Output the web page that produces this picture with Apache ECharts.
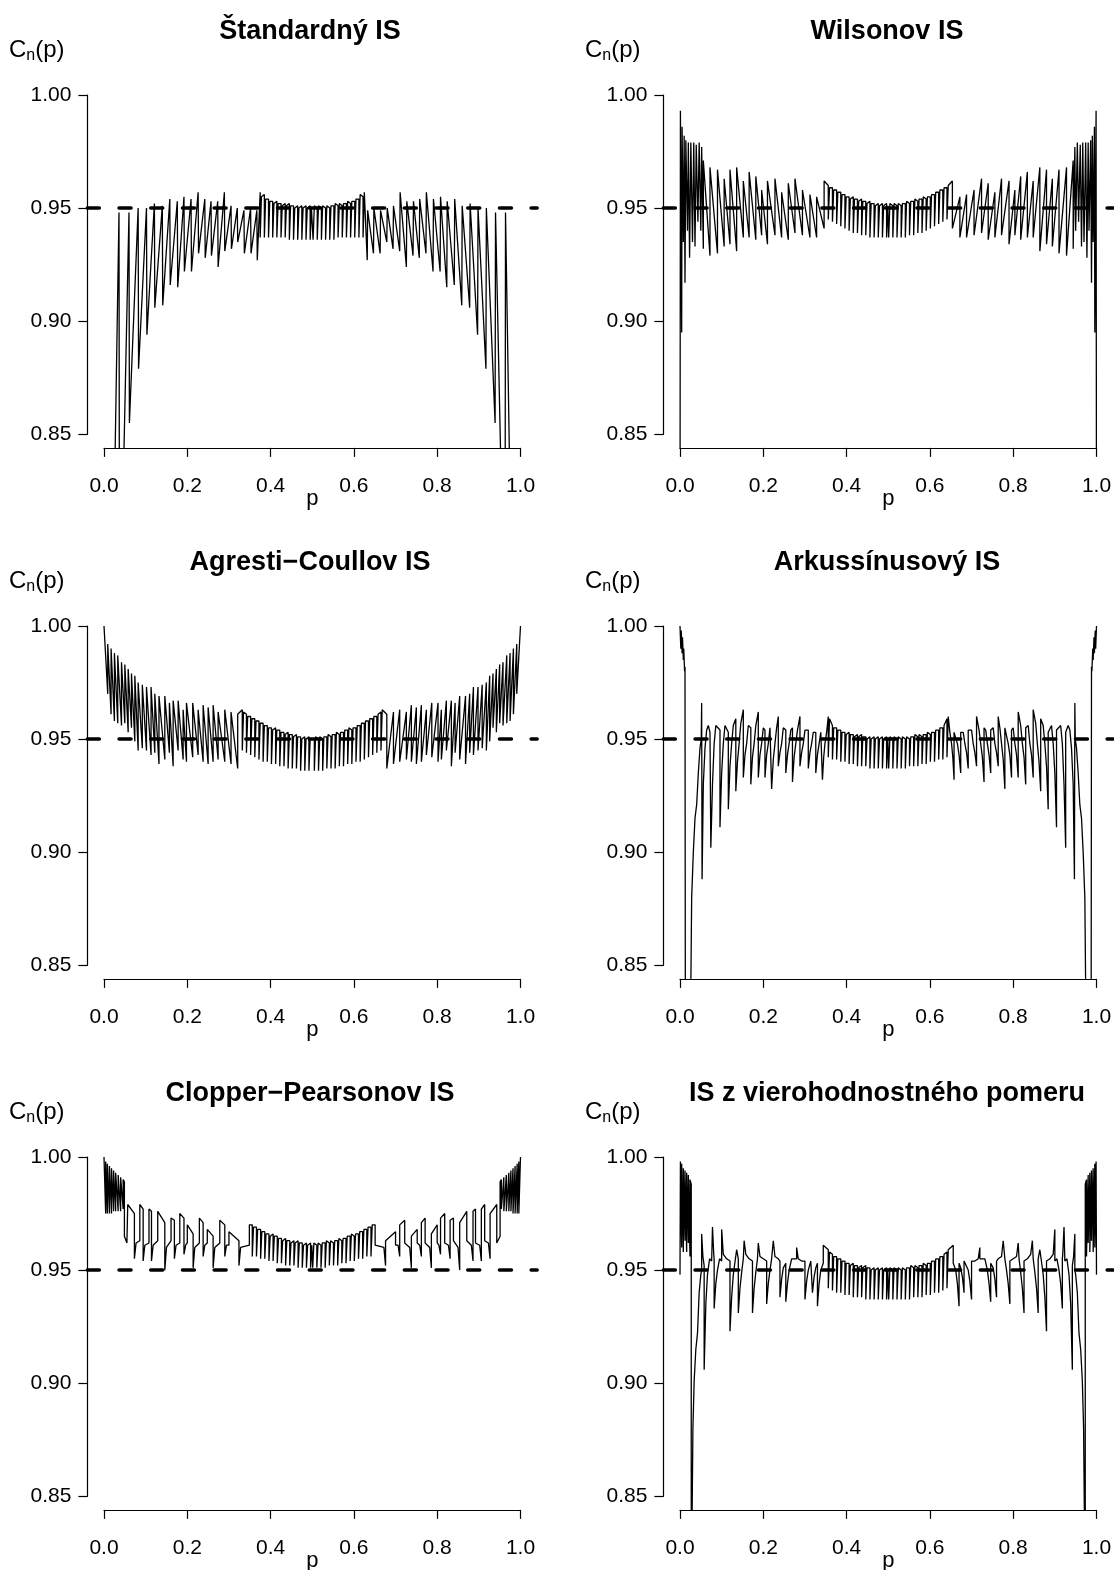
<!DOCTYPE html>
<html>
<head>
<meta charset="utf-8">
<title>Pravdepodobnosť pokrytia intervalov spoľahlivosti</title>
<script src="https://cdn.jsdelivr.net/npm/echarts@6/dist/echarts.min.js"></script>
<style>
  html, body { margin: 0; padding: 0; background: #fff; }
  #chart { width: 1114px; height: 1570px; }
</style>
</head>
<body>
<div id="chart"></div>
<script>
// coverage C_n(p), [p, C]
const standardIS = [
  [0,0.8],[0.023,0.8],[0.036,0.948],[0.037,0.8],[0.043,0.8],
  [0.06,0.948],[0.061,0.855],[0.082,0.95],[0.083,0.879],[0.102,0.95],[0.103,0.894],
  [0.121,0.952],[0.122,0.906],[0.14,0.951],[0.141,0.907],[0.158,0.954],[0.159,0.916],
  [0.176,0.953],[0.177,0.915],[0.192,0.955],[0.193,0.922],[0.209,0.954],[0.21,0.922],
  [0.226,0.957],[0.227,0.93],[0.242,0.954],[0.243,0.928],[0.257,0.953],[0.258,0.929],
  [0.273,0.953],[0.274,0.924],[0.289,0.957],[0.29,0.931],[0.305,0.951],[0.306,0.932],
  [0.32,0.95],[0.321,0.935],[0.336,0.949],[0.337,0.93],[0.352,0.95],[0.353,0.93],
  [0.367,0.949],[0.368,0.927],
  [0.375,0.957],[0.375,0.937],[0.378,0.937],[0.378,0.955],
  [0.385,0.956],[0.385,0.937],[0.388,0.937],[0.388,0.954],
  [0.395,0.954],[0.395,0.937],[0.398,0.937],[0.398,0.953],
  [0.405,0.953],[0.405,0.937],[0.408,0.937],[0.408,0.952],
  [0.415,0.953],[0.415,0.937],[0.418,0.937],[0.418,0.952],
  [0.425,0.952],[0.425,0.937],[0.428,0.937],[0.428,0.951],
  [0.435,0.952],[0.435,0.937],[0.438,0.937],[0.438,0.951],
  [0.445,0.952],[0.445,0.936],[0.448,0.936],[0.448,0.951],
  [0.455,0.951],[0.455,0.936],[0.458,0.936],[0.458,0.95],
  [0.465,0.951],[0.465,0.936],[0.468,0.936],[0.468,0.95],
  [0.475,0.951],[0.475,0.936],[0.478,0.936],[0.478,0.95],
  [0.485,0.951],[0.485,0.936],[0.488,0.936],[0.488,0.95],
  [0.495,0.951],[0.495,0.936],[0.498,0.936],[0.498,0.95],
  [0.502,0.95],[0.502,0.936],[0.505,0.936],[0.505,0.951],
  [0.512,0.95],[0.512,0.936],[0.515,0.936],[0.515,0.951],
  [0.522,0.95],[0.522,0.936],[0.525,0.936],[0.525,0.951],
  [0.532,0.95],[0.532,0.936],[0.535,0.936],[0.535,0.951],
  [0.542,0.95],[0.542,0.936],[0.545,0.936],[0.545,0.951],
  [0.552,0.951],[0.552,0.936],[0.555,0.936],[0.555,0.952],
  [0.562,0.951],[0.562,0.937],[0.565,0.937],[0.565,0.952],
  [0.572,0.951],[0.572,0.937],[0.575,0.937],[0.575,0.952],
  [0.582,0.952],[0.582,0.937],[0.585,0.937],[0.585,0.953],
  [0.592,0.952],[0.592,0.937],[0.595,0.937],[0.595,0.953],
  [0.602,0.953],[0.602,0.937],[0.605,0.937],[0.605,0.954],
  [0.612,0.954],[0.612,0.937],[0.615,0.937],[0.615,0.956],
  [0.622,0.955],[0.622,0.937],[0.625,0.937],[0.625,0.957],
  [0.632,0.927],[0.633,0.949],[0.647,0.93],[0.648,0.95],[0.663,0.93],[0.664,0.949],
  [0.679,0.935],[0.68,0.95],[0.694,0.932],[0.695,0.951],[0.71,0.931],[0.711,0.957],
  [0.726,0.924],[0.727,0.953],[0.742,0.929],[0.743,0.953],[0.757,0.928],[0.758,0.954],
  [0.773,0.93],[0.774,0.957],[0.79,0.922],[0.791,0.954],[0.807,0.922],[0.808,0.955],
  [0.823,0.915],[0.824,0.953],[0.841,0.916],[0.842,0.954],[0.859,0.907],[0.86,0.951],
  [0.878,0.906],[0.879,0.952],[0.897,0.894],[0.898,0.95],[0.917,0.879],[0.918,0.95],
  [0.939,0.855],[0.94,0.948],[0.957,0.8],[0.963,0.8],[0.964,0.948],[0.977,0.8],[1,0.8]
];

const wilsonIS = [
  [0,0.8],[0.001,0.993],[0.004,0.895],[0.005,0.986],[0.008,0.935],[0.01,0.982],[0.012,0.917],[0.014,0.98],
  [0.018,0.94],[0.02,0.979],[0.023,0.928],[0.026,0.979],[0.03,0.935],[0.033,0.979],[0.036,0.933],[0.039,0.978],
  [0.043,0.944],[0.046,0.979],[0.05,0.94],[0.052,0.977],
  [0.056,0.932],[0.056,0.971],[0.072,0.929],[0.072,0.968],[0.09,0.93],[0.09,0.967],[0.106,0.933],[0.106,0.963],
  [0.12,0.934],[0.12,0.967],[0.136,0.931],[0.136,0.968],[0.152,0.937],[0.152,0.962],[0.166,0.937],[0.166,0.966],
  [0.182,0.936],[0.182,0.964],[0.196,0.938],[0.196,0.958],[0.21,0.934],[0.21,0.962],[0.228,0.938],[0.228,0.963],
  [0.244,0.937],[0.244,0.957],[0.26,0.936],[0.26,0.961],[0.276,0.939],[0.276,0.963],[0.294,0.938],[0.294,0.958],
  [0.312,0.937],[0.312,0.956],[0.328,0.937],[0.328,0.955],[0.346,0.941],[0.346,0.962],
  [0.356,0.96],[0.356,0.945],[0.359,0.945],[0.359,0.959],
  [0.366,0.959],[0.366,0.944],[0.369,0.944],[0.369,0.958],
  [0.376,0.958],[0.376,0.943],[0.379,0.943],[0.379,0.957],
  [0.386,0.957],[0.386,0.942],[0.389,0.942],[0.389,0.956],
  [0.396,0.956],[0.396,0.941],[0.399,0.941],[0.399,0.955],
  [0.406,0.955],[0.406,0.94],[0.409,0.94],[0.409,0.954],
  [0.416,0.955],[0.416,0.939],[0.419,0.939],[0.419,0.954],
  [0.426,0.954],[0.426,0.939],[0.429,0.939],[0.429,0.953],
  [0.436,0.954],[0.436,0.938],[0.439,0.938],[0.439,0.953],
  [0.446,0.953],[0.446,0.938],[0.449,0.938],[0.449,0.952],
  [0.456,0.953],[0.456,0.937],[0.459,0.937],[0.459,0.952],
  [0.466,0.952],[0.466,0.937],[0.469,0.937],[0.469,0.951],
  [0.476,0.952],[0.476,0.937],[0.479,0.937],[0.479,0.951],
  [0.486,0.952],[0.486,0.937],[0.489,0.937],[0.489,0.951],
  [0.496,0.952],[0.496,0.937],[0.499,0.937],[0.499,0.951],
  [0.501,0.951],[0.501,0.937],[0.504,0.937],[0.504,0.952],
  [0.511,0.951],[0.511,0.937],[0.514,0.937],[0.514,0.952],
  [0.521,0.951],[0.521,0.937],[0.524,0.937],[0.524,0.952],
  [0.531,0.951],[0.531,0.937],[0.534,0.937],[0.534,0.952],
  [0.541,0.952],[0.541,0.937],[0.544,0.937],[0.544,0.953],
  [0.551,0.952],[0.551,0.938],[0.554,0.938],[0.554,0.953],
  [0.561,0.953],[0.561,0.938],[0.564,0.938],[0.564,0.954],
  [0.571,0.953],[0.571,0.939],[0.574,0.939],[0.574,0.954],
  [0.581,0.954],[0.581,0.939],[0.584,0.939],[0.584,0.955],
  [0.591,0.954],[0.591,0.94],[0.594,0.94],[0.594,0.955],
  [0.601,0.955],[0.601,0.941],[0.604,0.941],[0.604,0.956],
  [0.611,0.956],[0.611,0.942],[0.614,0.942],[0.614,0.957],
  [0.621,0.957],[0.621,0.943],[0.624,0.943],[0.624,0.958],
  [0.631,0.958],[0.631,0.944],[0.634,0.944],[0.634,0.959],
  [0.641,0.959],[0.641,0.945],[0.644,0.945],[0.644,0.96],
  [0.654,0.962],[0.654,0.941],[0.672,0.955],[0.672,0.937],[0.688,0.956],[0.688,0.937],[0.706,0.958],[0.706,0.938],
  [0.724,0.963],[0.724,0.939],[0.74,0.961],[0.74,0.936],[0.756,0.957],[0.756,0.937],[0.772,0.963],[0.772,0.938],
  [0.79,0.962],[0.79,0.934],[0.804,0.958],[0.804,0.938],[0.818,0.964],[0.818,0.936],[0.834,0.966],[0.834,0.937],
  [0.848,0.962],[0.848,0.937],[0.864,0.968],[0.864,0.931],[0.88,0.967],[0.88,0.934],[0.894,0.963],[0.894,0.933],
  [0.91,0.967],[0.91,0.93],[0.928,0.968],[0.928,0.929],[0.944,0.971],[0.944,0.932],
  [0.948,0.977],[0.95,0.94],[0.954,0.979],[0.957,0.944],[0.961,0.978],[0.964,0.933],[0.967,0.979],[0.97,0.935],
  [0.974,0.979],[0.977,0.928],[0.98,0.979],[0.982,0.94],[0.986,0.98],[0.988,0.917],[0.99,0.982],[0.992,0.935],
  [0.995,0.986],[0.996,0.895],[0.999,0.993],[1,0.8]
];

const agrestiIS = [
  [0,1],[0.009,0.97],[0.009,0.992],[0.017,0.961],[0.017,0.99],[0.025,0.958],[0.025,0.988],[0.033,0.957],[0.033,0.987],
  [0.042,0.956],[0.042,0.984],[0.05,0.957],[0.05,0.983],[0.058,0.953],[0.058,0.981],[0.066,0.955],[0.066,0.979],
  [0.074,0.949],[0.074,0.978],[0.082,0.945],[0.082,0.975],[0.092,0.946],[0.092,0.974],[0.102,0.945],[0.102,0.973],
  [0.113,0.943],[0.113,0.973],[0.122,0.944],[0.122,0.97],[0.132,0.939],[0.132,0.969],[0.146,0.941],[0.146,0.969],
  [0.157,0.944],[0.157,0.966],[0.166,0.938],[0.166,0.967],[0.178,0.945],[0.178,0.967],[0.19,0.941],[0.19,0.963],
  [0.198,0.94],[0.198,0.966],[0.213,0.942],[0.213,0.966],[0.226,0.943],[0.226,0.963],[0.238,0.94],[0.238,0.965],
  [0.25,0.939],[0.25,0.964],[0.262,0.94],[0.262,0.965],[0.274,0.941],[0.274,0.962],[0.29,0.94],[0.29,0.963],
  [0.305,0.939],[0.305,0.962],[0.321,0.937],[0.321,0.961],
  [0.332,0.963],[0.332,0.945],[0.335,0.945],[0.335,0.962],
  [0.342,0.961],[0.342,0.944],[0.345,0.944],[0.345,0.96],
  [0.352,0.96],[0.352,0.943],[0.355,0.943],[0.355,0.959],
  [0.362,0.959],[0.362,0.942],[0.365,0.942],[0.365,0.958],
  [0.372,0.958],[0.372,0.941],[0.375,0.941],[0.375,0.957],
  [0.382,0.957],[0.382,0.94],[0.385,0.94],[0.385,0.956],
  [0.392,0.956],[0.392,0.94],[0.395,0.94],[0.395,0.955],
  [0.402,0.955],[0.402,0.939],[0.405,0.939],[0.405,0.954],
  [0.412,0.955],[0.412,0.939],[0.415,0.939],[0.415,0.954],
  [0.422,0.954],[0.422,0.938],[0.425,0.938],[0.425,0.953],
  [0.432,0.953],[0.432,0.938],[0.435,0.938],[0.435,0.952],
  [0.442,0.953],[0.442,0.937],[0.445,0.937],[0.445,0.952],
  [0.452,0.952],[0.452,0.937],[0.455,0.937],[0.455,0.951],
  [0.462,0.952],[0.462,0.937],[0.465,0.937],[0.465,0.951],
  [0.472,0.951],[0.472,0.936],[0.475,0.936],[0.475,0.95],
  [0.482,0.951],[0.482,0.936],[0.485,0.936],[0.485,0.95],
  [0.492,0.951],[0.492,0.936],[0.495,0.936],[0.495,0.95],
  [0.505,0.95],[0.505,0.936],[0.508,0.936],[0.508,0.951],
  [0.515,0.95],[0.515,0.936],[0.518,0.936],[0.518,0.951],
  [0.525,0.95],[0.525,0.936],[0.528,0.936],[0.528,0.951],
  [0.535,0.951],[0.535,0.937],[0.538,0.937],[0.538,0.952],
  [0.545,0.951],[0.545,0.937],[0.548,0.937],[0.548,0.952],
  [0.555,0.952],[0.555,0.937],[0.558,0.937],[0.558,0.953],
  [0.565,0.952],[0.565,0.938],[0.568,0.938],[0.568,0.953],
  [0.575,0.953],[0.575,0.938],[0.578,0.938],[0.578,0.954],
  [0.585,0.954],[0.585,0.939],[0.588,0.939],[0.588,0.955],
  [0.595,0.954],[0.595,0.939],[0.598,0.939],[0.598,0.955],
  [0.605,0.955],[0.605,0.94],[0.608,0.94],[0.608,0.956],
  [0.615,0.956],[0.615,0.94],[0.618,0.94],[0.618,0.957],
  [0.625,0.957],[0.625,0.941],[0.628,0.941],[0.628,0.958],
  [0.635,0.958],[0.635,0.942],[0.638,0.942],[0.638,0.959],
  [0.645,0.959],[0.645,0.943],[0.648,0.943],[0.648,0.96],
  [0.655,0.96],[0.655,0.944],[0.658,0.944],[0.658,0.961],
  [0.665,0.962],[0.665,0.945],[0.668,0.945],[0.668,0.963],
  [0.679,0.961],[0.679,0.937],[0.695,0.962],[0.695,0.939],[0.71,0.963],[0.71,0.94],[0.726,0.962],[0.726,0.941],
  [0.738,0.965],[0.738,0.94],[0.75,0.964],[0.75,0.939],[0.762,0.965],[0.762,0.94],[0.774,0.963],[0.774,0.943],
  [0.787,0.966],[0.787,0.942],[0.802,0.966],[0.802,0.94],[0.81,0.963],[0.81,0.941],[0.822,0.967],[0.822,0.945],
  [0.834,0.967],[0.834,0.938],[0.843,0.966],[0.843,0.944],[0.854,0.969],[0.854,0.941],[0.868,0.969],[0.868,0.939],
  [0.878,0.97],[0.878,0.944],[0.887,0.973],[0.887,0.943],[0.898,0.973],[0.898,0.945],[0.908,0.974],[0.908,0.946],
  [0.918,0.975],[0.918,0.945],[0.926,0.978],[0.926,0.949],[0.934,0.979],[0.934,0.955],[0.942,0.981],[0.942,0.953],
  [0.95,0.983],[0.95,0.957],[0.958,0.984],[0.958,0.956],[0.967,0.987],[0.967,0.957],[0.975,0.988],[0.975,0.958],
  [0.983,0.99],[0.983,0.961],[0.991,0.992],[0.991,0.97],[1,1]
];

const arcsinIS = [
  [0,1],[0.002,0.99],[0.003,0.998],[0.005,0.988],[0.006,0.995],[0.008,0.985],[0.009,0.99],[0.011,0.98],[0.012,0.982],
  [0.013,0.8],[0.024,0.8],[0.028,0.88],[0.032,0.9],[0.036,0.915],[0.04,0.921],[0.044,0.935],[0.048,0.946],[0.051,0.95],
  [0.052,0.966],[0.053,0.888],[0.056,0.93],[0.06,0.946],[0.064,0.954],[0.068,0.956],[0.072,0.953],
  [0.074,0.953],[0.074,0.902],[0.078,0.93],[0.082,0.948],[0.086,0.956],
  [0.096,0.954],[0.096,0.911],[0.1,0.935],[0.104,0.948],[0.108,0.956],
  [0.116,0.953],[0.116,0.919],[0.12,0.938],[0.124,0.948],[0.128,0.956],
  [0.134,0.959],[0.134,0.927],[0.138,0.94],[0.142,0.948],[0.146,0.957],
  [0.152,0.963],[0.152,0.933],[0.156,0.943],[0.16,0.948],[0.164,0.956],
  [0.17,0.955],[0.17,0.93],[0.174,0.942],[0.178,0.948],[0.182,0.956],
  [0.188,0.962],[0.188,0.933],[0.192,0.943],[0.196,0.948],[0.2,0.955],
  [0.204,0.954],[0.204,0.933],[0.208,0.943],[0.212,0.948],[0.216,0.955],
  [0.22,0.955],[0.22,0.928],[0.224,0.941],[0.228,0.948],[0.232,0.955],
  [0.236,0.96],[0.236,0.938],[0.24,0.944],[0.244,0.948],[0.248,0.955],
  [0.254,0.954],[0.254,0.935],[0.258,0.943],[0.262,0.948],[0.266,0.954],
  [0.27,0.955],[0.27,0.931],[0.274,0.942],[0.278,0.948],[0.282,0.954],
  [0.288,0.96],[0.288,0.938],[0.292,0.944],[0.296,0.948],[0.3,0.954],
  [0.308,0.954],[0.308,0.937],[0.312,0.944],[0.316,0.948],[0.32,0.953],
  [0.326,0.953],[0.326,0.935],[0.33,0.943],[0.334,0.948],[0.338,0.953],
  [0.342,0.953],[0.342,0.932],[0.345,0.942],[0.348,0.948],[0.352,0.953],
  [0.356,0.96],[0.356,0.942],[0.359,0.942],[0.359,0.959],
  [0.366,0.956],[0.366,0.941],[0.369,0.941],[0.369,0.955],
  [0.376,0.955],[0.376,0.941],[0.379,0.941],[0.379,0.954],
  [0.386,0.954],[0.386,0.94],[0.389,0.94],[0.389,0.953],
  [0.396,0.953],[0.396,0.94],[0.399,0.94],[0.399,0.952],
  [0.406,0.953],[0.406,0.939],[0.409,0.939],[0.409,0.952],
  [0.416,0.952],[0.416,0.939],[0.419,0.939],[0.419,0.951],
  [0.426,0.952],[0.426,0.938],[0.429,0.938],[0.429,0.951],
  [0.436,0.952],[0.436,0.938],[0.439,0.938],[0.439,0.951],
  [0.446,0.951],[0.446,0.938],[0.449,0.938],[0.449,0.95],
  [0.456,0.951],[0.456,0.937],[0.459,0.937],[0.459,0.95],
  [0.466,0.951],[0.466,0.937],[0.469,0.937],[0.469,0.95],
  [0.476,0.951],[0.476,0.937],[0.479,0.937],[0.479,0.95],
  [0.486,0.951],[0.486,0.937],[0.489,0.937],[0.489,0.95],
  [0.496,0.951],[0.496,0.937],[0.499,0.937],[0.499,0.95],
  [0.501,0.95],[0.501,0.937],[0.504,0.937],[0.504,0.951],
  [0.511,0.95],[0.511,0.937],[0.514,0.937],[0.514,0.951],
  [0.521,0.95],[0.521,0.937],[0.524,0.937],[0.524,0.951],
  [0.531,0.95],[0.531,0.937],[0.534,0.937],[0.534,0.951],
  [0.541,0.95],[0.541,0.937],[0.544,0.937],[0.544,0.951],
  [0.551,0.95],[0.551,0.938],[0.554,0.938],[0.554,0.951],
  [0.561,0.951],[0.561,0.938],[0.564,0.938],[0.564,0.952],
  [0.571,0.951],[0.571,0.938],[0.574,0.938],[0.574,0.952],
  [0.581,0.951],[0.581,0.939],[0.584,0.939],[0.584,0.952],
  [0.591,0.952],[0.591,0.939],[0.594,0.939],[0.594,0.953],
  [0.601,0.952],[0.601,0.94],[0.604,0.94],[0.604,0.953],
  [0.611,0.953],[0.611,0.94],[0.614,0.94],[0.614,0.954],
  [0.621,0.954],[0.621,0.941],[0.624,0.941],[0.624,0.955],
  [0.631,0.955],[0.631,0.941],[0.634,0.941],[0.634,0.956],
  [0.641,0.959],[0.641,0.942],[0.644,0.942],[0.644,0.96],
  [0.648,0.953],[0.652,0.948],[0.655,0.942],[0.658,0.932],[0.658,0.953],
  [0.662,0.953],[0.666,0.948],[0.67,0.943],[0.674,0.935],[0.674,0.953],
  [0.68,0.953],[0.684,0.948],[0.688,0.944],[0.692,0.937],[0.692,0.954],
  [0.7,0.954],[0.704,0.948],[0.708,0.944],[0.712,0.938],[0.712,0.96],
  [0.718,0.954],[0.722,0.948],[0.726,0.942],[0.73,0.931],[0.73,0.955],
  [0.734,0.954],[0.738,0.948],[0.742,0.943],[0.746,0.935],[0.746,0.954],
  [0.752,0.955],[0.756,0.948],[0.76,0.944],[0.764,0.938],[0.764,0.96],
  [0.768,0.955],[0.772,0.948],[0.776,0.941],[0.78,0.928],[0.78,0.955],
  [0.784,0.955],[0.788,0.948],[0.792,0.943],[0.796,0.933],[0.796,0.954],
  [0.8,0.955],[0.804,0.948],[0.808,0.943],[0.812,0.933],[0.812,0.962],
  [0.818,0.956],[0.822,0.948],[0.826,0.942],[0.83,0.93],[0.83,0.955],
  [0.836,0.956],[0.84,0.948],[0.844,0.943],[0.848,0.933],[0.848,0.963],
  [0.854,0.957],[0.858,0.948],[0.862,0.94],[0.866,0.927],[0.866,0.959],
  [0.872,0.956],[0.876,0.948],[0.88,0.938],[0.884,0.919],[0.884,0.953],
  [0.892,0.956],[0.896,0.948],[0.9,0.935],[0.904,0.911],[0.904,0.954],
  [0.914,0.956],[0.918,0.948],[0.922,0.93],[0.926,0.902],[0.926,0.953],
  [0.928,0.953],[0.932,0.956],[0.936,0.954],[0.94,0.946],[0.944,0.93],[0.947,0.888],[0.948,0.966],[0.949,0.95],
  [0.952,0.946],[0.956,0.935],[0.96,0.921],[0.964,0.915],[0.968,0.9],[0.972,0.88],[0.976,0.8],[0.987,0.8],
  [0.988,0.982],[0.989,0.98],[0.991,0.99],[0.992,0.985],[0.994,0.995],[0.995,0.988],[0.997,0.998],[0.998,0.99],[1,1]
];

const clopperIS = [
  [0,1],[0.004,0.975],[0.004,0.998],[0.008,0.975],[0.008,0.997],[0.013,0.975],[0.013,0.996],[0.018,0.975],[0.018,0.995],
  [0.023,0.976],[0.023,0.994],[0.028,0.976],[0.028,0.993],[0.034,0.976],[0.034,0.992],[0.04,0.976],[0.04,0.991],
  [0.046,0.977],[0.046,0.99],[0.049,0.989],[0.049,0.965],[0.055,0.962],
  [0.057,0.962],[0.057,0.979],[0.073,0.975],[0.073,0.955],[0.077,0.962],
  [0.086,0.963],[0.086,0.979],[0.094,0.977],[0.094,0.954],[0.098,0.961],
  [0.108,0.962],[0.108,0.977],[0.114,0.976],[0.114,0.954],[0.118,0.961],
  [0.129,0.963],[0.129,0.976],[0.146,0.971],[0.146,0.95],[0.15,0.96],
  [0.161,0.963],[0.161,0.973],[0.169,0.972],[0.169,0.955],[0.173,0.961],
  [0.182,0.962],[0.182,0.975],[0.192,0.973],[0.192,0.957],[0.196,0.961],
  [0.2,0.962],[0.2,0.97],[0.214,0.966],[0.214,0.951],[0.218,0.96],
  [0.229,0.962],[0.229,0.973],[0.238,0.971],[0.238,0.956],[0.242,0.961],
  [0.248,0.962],[0.248,0.968],[0.262,0.965],[0.262,0.951],[0.266,0.96],
  [0.278,0.962],[0.278,0.972],[0.29,0.97],[0.29,0.956],[0.294,0.961],
  [0.3,0.961],[0.3,0.967],[0.324,0.963],[0.324,0.952],[0.328,0.96],
  [0.349,0.961],[0.349,0.97],
  [0.356,0.97],[0.356,0.956],[0.359,0.956],[0.359,0.969],
  [0.366,0.969],[0.366,0.956],[0.369,0.956],[0.369,0.968],
  [0.376,0.968],[0.376,0.955],[0.379,0.955],[0.379,0.967],
  [0.386,0.967],[0.386,0.955],[0.389,0.955],[0.389,0.966],
  [0.396,0.966],[0.396,0.954],[0.399,0.954],[0.399,0.965],
  [0.406,0.966],[0.406,0.954],[0.409,0.954],[0.409,0.965],
  [0.416,0.965],[0.416,0.953],[0.419,0.953],[0.419,0.964],
  [0.426,0.964],[0.426,0.953],[0.429,0.953],[0.429,0.963],
  [0.436,0.964],[0.436,0.952],[0.439,0.952],[0.439,0.963],
  [0.446,0.963],[0.446,0.952],[0.449,0.952],[0.449,0.962],
  [0.456,0.963],[0.456,0.952],[0.459,0.952],[0.459,0.962],
  [0.466,0.963],[0.466,0.951],[0.469,0.951],[0.469,0.962],
  [0.476,0.962],[0.476,0.951],[0.479,0.951],[0.479,0.961],
  [0.486,0.962],[0.486,0.951],[0.489,0.951],[0.489,0.961],
  [0.496,0.962],[0.496,0.951],[0.499,0.951],[0.499,0.961],
  [0.501,0.961],[0.501,0.951],[0.504,0.951],[0.504,0.962],
  [0.511,0.961],[0.511,0.951],[0.514,0.951],[0.514,0.962],
  [0.521,0.961],[0.521,0.951],[0.524,0.951],[0.524,0.962],
  [0.531,0.962],[0.531,0.951],[0.534,0.951],[0.534,0.963],
  [0.541,0.962],[0.541,0.952],[0.544,0.952],[0.544,0.963],
  [0.551,0.962],[0.551,0.952],[0.554,0.952],[0.554,0.963],
  [0.561,0.963],[0.561,0.952],[0.564,0.952],[0.564,0.964],
  [0.571,0.963],[0.571,0.953],[0.574,0.953],[0.574,0.964],
  [0.581,0.964],[0.581,0.953],[0.584,0.953],[0.584,0.965],
  [0.591,0.965],[0.591,0.954],[0.594,0.954],[0.594,0.966],
  [0.601,0.965],[0.601,0.954],[0.604,0.954],[0.604,0.966],
  [0.611,0.966],[0.611,0.955],[0.614,0.955],[0.614,0.967],
  [0.621,0.967],[0.621,0.955],[0.624,0.955],[0.624,0.968],
  [0.631,0.968],[0.631,0.956],[0.634,0.956],[0.634,0.969],
  [0.641,0.969],[0.641,0.956],[0.644,0.956],[0.644,0.97],
  [0.651,0.97],[0.651,0.961],
  [0.672,0.96],[0.676,0.952],[0.676,0.963],[0.7,0.967],[0.7,0.961],
  [0.706,0.961],[0.71,0.956],[0.71,0.97],[0.722,0.972],[0.722,0.962],
  [0.734,0.96],[0.738,0.951],[0.738,0.965],[0.752,0.968],[0.752,0.962],
  [0.758,0.961],[0.762,0.956],[0.762,0.971],[0.771,0.973],[0.771,0.962],
  [0.782,0.96],[0.786,0.951],[0.786,0.966],[0.8,0.97],[0.8,0.962],
  [0.804,0.961],[0.808,0.957],[0.808,0.973],[0.818,0.975],[0.818,0.962],
  [0.827,0.961],[0.831,0.955],[0.831,0.972],[0.839,0.973],[0.839,0.963],
  [0.85,0.96],[0.854,0.95],[0.854,0.971],[0.871,0.976],[0.871,0.963],
  [0.882,0.961],[0.886,0.954],[0.886,0.976],[0.892,0.977],[0.892,0.962],
  [0.902,0.961],[0.906,0.954],[0.906,0.977],[0.914,0.979],[0.914,0.963],
  [0.923,0.962],[0.927,0.955],[0.927,0.975],[0.943,0.979],[0.943,0.962],
  [0.945,0.962],[0.951,0.965],[0.951,0.989],[0.954,0.99],[0.954,0.977],[0.96,0.991],[0.96,0.976],
  [0.966,0.992],[0.966,0.976],[0.972,0.993],[0.972,0.976],[0.977,0.994],[0.977,0.976],[0.982,0.995],[0.982,0.975],
  [0.987,0.996],[0.987,0.975],[0.992,0.997],[0.992,0.975],[0.996,0.998],[0.996,0.975],[1,1]
];

const likelihoodIS = [
  [0,0.948],[0.001,0.998],[0.004,0.96],[0.004,0.997],[0.008,0.958],[0.008,0.995],[0.012,0.963],[0.012,0.994],
  [0.016,0.958],[0.016,0.993],[0.02,0.962],[0.02,0.992],[0.024,0.956],[0.024,0.99],[0.027,0.988],[0.027,0.8],
  [0.031,0.88],[0.034,0.901],[0.038,0.915],[0.042,0.922],[0.046,0.94],[0.05,0.948],
  [0.052,0.95],[0.052,0.966],[0.055,0.956],[0.058,0.952],[0.058,0.906],[0.062,0.935],[0.066,0.948],[0.071,0.955],[0.076,0.954],
  [0.078,0.969],[0.081,0.957],[0.082,0.955],[0.082,0.933],[0.086,0.944],[0.09,0.95],[0.095,0.955],
  [0.1,0.954],[0.1,0.968],[0.104,0.957],[0.112,0.955],
  [0.12,0.954],[0.12,0.923],[0.124,0.938],[0.128,0.948],[0.133,0.955],
  [0.136,0.959],[0.14,0.955],[0.14,0.931],[0.144,0.942],[0.148,0.949],[0.152,0.955],
  [0.154,0.963],[0.158,0.957],[0.166,0.955],
  [0.174,0.954],[0.174,0.931],[0.178,0.942],[0.182,0.949],[0.186,0.955],
  [0.188,0.962],[0.192,0.956],[0.2,0.955],
  [0.208,0.954],[0.208,0.935],[0.212,0.944],[0.216,0.95],[0.22,0.955],
  [0.224,0.963],[0.228,0.956],[0.236,0.955],
  [0.24,0.954],[0.24,0.938],[0.244,0.946],[0.248,0.951],
  [0.254,0.953],[0.254,0.936],[0.258,0.944],[0.262,0.95],[0.268,0.955],
  [0.28,0.955],[0.28,0.96],[0.284,0.955],[0.292,0.954],
  [0.3,0.954],[0.3,0.937],[0.304,0.945],[0.308,0.95],[0.314,0.954],
  [0.318,0.954],[0.318,0.94],[0.322,0.947],[0.326,0.951],
  [0.33,0.953],[0.33,0.934],[0.334,0.944],[0.338,0.95],
  [0.344,0.953],[0.344,0.961],
  [0.356,0.959],[0.356,0.942],[0.359,0.942],[0.359,0.958],
  [0.366,0.957],[0.366,0.941],[0.369,0.941],[0.369,0.956],
  [0.376,0.956],[0.376,0.94],[0.379,0.94],[0.379,0.955],
  [0.386,0.955],[0.386,0.94],[0.389,0.94],[0.389,0.954],
  [0.396,0.954],[0.396,0.939],[0.399,0.939],[0.399,0.953],
  [0.406,0.953],[0.406,0.939],[0.409,0.939],[0.409,0.952],
  [0.416,0.953],[0.416,0.938],[0.419,0.938],[0.419,0.952],
  [0.426,0.952],[0.426,0.938],[0.429,0.938],[0.429,0.951],
  [0.436,0.952],[0.436,0.938],[0.439,0.938],[0.439,0.951],
  [0.446,0.952],[0.446,0.937],[0.449,0.937],[0.449,0.951],
  [0.456,0.951],[0.456,0.937],[0.459,0.937],[0.459,0.95],
  [0.466,0.951],[0.466,0.937],[0.469,0.937],[0.469,0.95],
  [0.476,0.951],[0.476,0.937],[0.479,0.937],[0.479,0.95],
  [0.486,0.951],[0.486,0.937],[0.489,0.937],[0.489,0.95],
  [0.496,0.951],[0.496,0.937],[0.499,0.937],[0.499,0.95],
  [0.501,0.95],[0.501,0.937],[0.504,0.937],[0.504,0.951],
  [0.511,0.95],[0.511,0.937],[0.514,0.937],[0.514,0.951],
  [0.521,0.95],[0.521,0.937],[0.524,0.937],[0.524,0.951],
  [0.531,0.95],[0.531,0.937],[0.534,0.937],[0.534,0.951],
  [0.541,0.95],[0.541,0.937],[0.544,0.937],[0.544,0.951],
  [0.551,0.951],[0.551,0.937],[0.554,0.937],[0.554,0.952],
  [0.561,0.951],[0.561,0.938],[0.564,0.938],[0.564,0.952],
  [0.571,0.951],[0.571,0.938],[0.574,0.938],[0.574,0.952],
  [0.581,0.952],[0.581,0.938],[0.584,0.938],[0.584,0.953],
  [0.591,0.952],[0.591,0.939],[0.594,0.939],[0.594,0.953],
  [0.601,0.953],[0.601,0.939],[0.604,0.939],[0.604,0.954],
  [0.611,0.954],[0.611,0.94],[0.614,0.94],[0.614,0.955],
  [0.621,0.955],[0.621,0.94],[0.624,0.94],[0.624,0.956],
  [0.631,0.956],[0.631,0.941],[0.634,0.941],[0.634,0.957],
  [0.641,0.958],[0.641,0.942],[0.644,0.942],[0.644,0.959],
  [0.656,0.961],[0.656,0.953],[0.662,0.95],[0.666,0.944],[0.67,0.934],[0.67,0.953],
  [0.674,0.951],[0.678,0.947],[0.682,0.94],[0.682,0.954],
  [0.686,0.954],[0.692,0.95],[0.696,0.945],[0.7,0.937],[0.7,0.954],
  [0.708,0.954],[0.716,0.955],[0.72,0.96],[0.72,0.955],
  [0.732,0.955],[0.738,0.95],[0.742,0.944],[0.746,0.936],[0.746,0.953],
  [0.752,0.951],[0.756,0.946],[0.76,0.938],[0.76,0.954],
  [0.764,0.955],[0.772,0.956],[0.776,0.963],
  [0.78,0.955],[0.784,0.95],[0.788,0.944],[0.792,0.935],[0.792,0.954],
  [0.8,0.955],[0.808,0.956],[0.812,0.962],
  [0.814,0.955],[0.818,0.949],[0.822,0.942],[0.826,0.931],[0.826,0.954],
  [0.834,0.955],[0.842,0.957],[0.846,0.963],
  [0.848,0.955],[0.852,0.949],[0.856,0.942],[0.86,0.931],[0.86,0.955],[0.864,0.959],
  [0.867,0.955],[0.872,0.948],[0.876,0.938],[0.88,0.923],[0.88,0.954],
  [0.888,0.955],[0.896,0.957],[0.9,0.968],[0.9,0.954],
  [0.905,0.955],[0.91,0.95],[0.914,0.944],[0.918,0.933],[0.918,0.955],[0.919,0.957],[0.922,0.969],
  [0.924,0.954],[0.929,0.955],[0.934,0.948],[0.938,0.935],[0.942,0.906],[0.942,0.952],[0.945,0.956],[0.948,0.966],[0.948,0.95],
  [0.95,0.948],[0.954,0.94],[0.958,0.922],[0.962,0.915],[0.966,0.901],[0.969,0.88],
  [0.973,0.8],[0.973,0.988],[0.976,0.99],[0.976,0.956],[0.98,0.992],[0.98,0.962],[0.984,0.993],[0.984,0.958],
  [0.988,0.994],[0.988,0.963],[0.992,0.995],[0.992,0.958],[0.996,0.997],[0.996,0.96],[0.999,0.998],[1,0.948]
];

const panelTitles = [
  'Štandardný IS', 'Wilsonov IS',
  'Agresti\u2212Coullov IS', 'Arkussínusový IS',
  'Clopper\u2212Pearsonov IS', 'IS z vierohodnostného pomeru'
];
const panelData = [standardIS, wilsonIS, agrestiIS, arcsinIS, clopperIS, likelihoodIS];
const nominalLevel = 0.95;
const pLimits = [-0.04, 1.04];     // R plot region, 4 % padding
const cLimits = [0.844, 1.006];

const chart = echarts.init(document.getElementById('chart'));
const font = 'Liberation Sans, Arial, Helvetica, sans-serif';

const pxP = 416.5;   // pixels for one unit of p
const pxC = 2262;    // pixels for one unit of C_n(p)

const grid = [], xAxis = [], yAxis = [], series = [], title = [];

panelData.forEach((data, i) => {
  const col = i % 2, row = Math.floor(i / 2);
  const x0 = col === 0 ? 104 : 680;      // where p = 0 sits
  const y1 = 95 + row * 531;             // where C = 1.00 sits
  const plotLeft = x0 + pLimits[0] * pxP;
  const plotTop = y1 - (cLimits[1] - 1) * pxC;
  const plotH = (cLimits[1] - cLimits[0]) * pxC;
  const frameH = 0.15 * pxC;
  const g = grid.length;

  // plot region for the curves
  grid.push({ left: plotLeft, top: plotTop, width: (pLimits[1] - pLimits[0]) * pxP, height: plotH });
  xAxis.push({ gridIndex: g, type: 'value', min: pLimits[0], max: pLimits[1], show: false });
  yAxis.push({ gridIndex: g, type: 'value', min: cLimits[0], max: cLimits[1], show: false });

  // axes, only spanning the tick range like R does
  grid.push({ left: x0, top: y1, width: pxP, height: frameH });
  xAxis.push({
    gridIndex: g + 1, type: 'value', min: 0, max: 1, interval: 0.2,
    offset: plotTop + plotH - (y1 + frameH),
    name: 'p', nameLocation: 'middle', nameGap: 40, nameMoveOverlap: false,
    nameTextStyle: { fontSize: 22, fontFamily: font, color: '#000' },
    axisLine: { onZero: false, lineStyle: { color: '#000', width: 1.2 } },
    axisTick: { length: 9, lineStyle: { color: '#000', width: 1.2 } },
    axisLabel: { margin: 28, fontSize: 21, fontFamily: font, color: '#000', formatter: v => v.toFixed(1) },
    splitLine: { show: false }
  });
  yAxis.push({
    gridIndex: g + 1, type: 'value', min: 0.85, max: 1.0, interval: 0.05,
    offset: x0 - plotLeft,
    axisLine: { onZero: false, lineStyle: { color: '#000', width: 1.2 } },
    axisTick: { length: 9, lineStyle: { color: '#000', width: 1.2 } },
    axisLabel: { margin: 16, fontSize: 21, fontFamily: font, color: '#000', formatter: v => v.toFixed(2) },
    splitLine: { show: false }
  });

  series.push({
    type: 'line', xAxisIndex: g, yAxisIndex: g, data: data,
    symbol: 'none', clip: true, silent: true,
    lineStyle: { color: '#000', width: 1.3 }
  });
  series.push({
    type: 'line', xAxisIndex: g, yAxisIndex: g,
    data: [[pLimits[0], nominalLevel], [pLimits[1], nominalLevel]],
    symbol: 'none', clip: true, silent: true,
    lineStyle: { color: '#000', width: 3.5, type: [12, 19.7], cap: 'round' }
  });

  title.push({
    text: panelTitles[i], left: col === 0 ? 310 : 887, top: 18 + row * 531,
    textAlign: 'center', padding: 0,
    textStyle: { fontSize: 27, fontWeight: 'bold', fontFamily: font, color: '#000' }
  });
  title.push({
    text: '{c|C}{s|n}{c|(p)}', left: col === 0 ? 9 : 585, top: 36 + row * 531, padding: 0,
    textStyle: {
      fontWeight: 'normal',
      rich: {
        c: { fontSize: 24, fontWeight: 'normal', fontFamily: font, color: '#000', lineHeight: 28, verticalAlign: 'middle' },
        s: { fontSize: 16, fontWeight: 'normal', fontFamily: font, color: '#000', lineHeight: 28, verticalAlign: 'bottom' }
      }
    }
  });
});

const option = {
  animation: false,
  backgroundColor: '#fff',
  title: title,
  grid: grid.map(gr => Object.assign({ containLabel: false, outerBoundsMode: 'none' }, gr)),
  xAxis: xAxis,
  yAxis: yAxis,
  series: series
};
chart.setOption(option);
</script>
</body>
</html>
